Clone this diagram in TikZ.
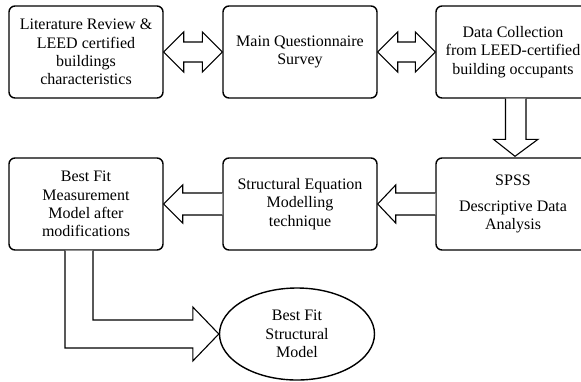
\documentclass[tikz,border=0pt]{standalone}
\usepackage{fontspec}
\setmainfont{Liberation Serif}
\usepackage{tikz}
\usetikzlibrary{calc}
\usetikzlibrary{shapes}

\begin{document}
\begin{tikzpicture}[x=1pt,y=-1pt]
        \tikzstyle{every node}=[font=\fontsize{16}{18.4}\selectfont,align=center]
        \tikzstyle{stage}=[draw=black,line width=1.4pt,rounded corners=6pt,minimum width=154pt,minimum height=92pt,inner sep=2pt]
        \tikzstyle{blk}=[draw=black,line width=1.1pt,fill=white,line join=miter]

        \useasboundingbox (0,0) rectangle (581,381);
        \clip (0,0) rectangle (581,381);

        % top row
        \node [stage] (lit) at (86,52) {Literature Review \&\\LEED certified\\buildings\\characteristics};
        \node [stage] (quest) at (300,52) {Main Questionnaire\\Survey};
        \node [stage] (data) at (513,52) {Data Collection\\from LEED-certified\\building occupants};

        % bottom row
        \node [stage] (spss) at (513,204) {SPSS\\[7pt]Descriptive Data\\Analysis};
        \node [stage] (sem) at (300,204) {Structural Equation\\Modelling\\technique};
        \node [stage] (best) at (86,204) {Best Fit\\Measurement\\Model after\\modifications};
        \node [draw=black,line width=1.4pt,ellipse,minimum width=155pt,minimum height=92pt,inner sep=0pt] (sfit) at (297,334) {Best Fit\\Structural\\Model};

        % double arrows
        \draw [blk] (lit.east) -- ++(20,-20) -- ++(0,10) -- ($(quest.west)+(-20,-10)$) -- ++(0,-10) -- (quest.west)
                -- ++(-20,20) -- ++(0,-10) -- ($(lit.east)+(20,10)$) -- ++(0,10) -- cycle;
        \draw [blk] (quest.east) -- ++(20,-20) -- ++(0,10) -- ($(data.west)+(-20,-10)$) -- ++(0,-10) -- (data.west)
                -- ++(-20,20) -- ++(0,-10) -- ($(quest.east)+(20,10)$) -- ++(0,10) -- cycle;

        % down arrow
        \draw [blk] ($(data.south)+(-7.5,0)$) -- ($(spss.north)+(-7.5,-18)$) -- ++(-12,0) -- ($(spss.north)+(2,-1)$)
                -- ($(spss.north)+(25,-18)$) -- ++(-12,0) -- ($(data.south)+(13,0)$);

        % left arrows
        \draw [blk] ($(spss.west)+(0,-11)$) -- ($(sem.east)+(18,-11)$) -- ++(0,-8) -- (sem.east) -- ++(18,19) -- ++(0,-8) -- ($(spss.west)+(0,11)$);
        \draw [blk] ($(sem.west)+(0,-11)$) -- ($(best.east)+(19,-11)$) -- ++(0,-8) -- (best.east) -- ++(19,19) -- ++(0,-8) -- ($(sem.west)+(0,11)$);

        % bent arrow
        \draw [blk] ($(best.south)+(-21,0)$) |- ($(sfit.west)+(-26,14)$) -- ++(0,13) -- (sfit.west) -- ++(-26,-27) -- ++(0,13) -| ($(best.south)+(7,0)$);
\end{tikzpicture}
\end{document}
